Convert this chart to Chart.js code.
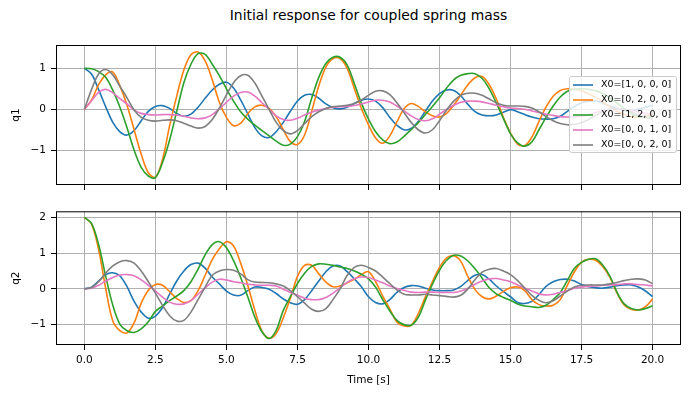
<!DOCTYPE html>
<html>
<head>
<meta charset="utf-8">
<script src="https://cdn.jsdelivr.net/npm/chart.js@4.4.0/dist/chart.umd.min.js"></script>
<style>
  body { margin: 0; background: #fff; }
  #wrap { position: relative; width: 690px; height: 396px; overflow: hidden; }
  #title { position: absolute; left: 56px; width: 625px; top: 7px; height: 20px; line-height: 20px;
           text-align: center; font: 13.9px "DejaVu Sans", sans-serif; color: #000; }
  canvas { position: absolute; left: 0; }
  #top { top: 0; }
  #bottom { top: 200px; }
</style>
</head>
<body>
<div id="wrap">
  <div id="title">Initial response for coupled spring mass</div>
  <canvas id="top" width="690" height="200"></canvas>
  <canvas id="bottom" width="690" height="196"></canvas>
</div>
<script>
// sample times [s]
const time = [0, 0.25, 0.5, 0.75, 1, 1.25, 1.5, 1.75, 2, 2.25,
  2.5, 2.75, 3, 3.25, 3.5, 3.75, 4, 4.25, 4.5, 4.75,
  5, 5.25, 5.5, 5.75, 6, 6.25, 6.5, 6.75, 7, 7.25,
  7.5, 7.75, 8, 8.25, 8.5, 8.75, 9, 9.25, 9.5, 9.75,
  10, 10.25, 10.5, 10.75, 11, 11.25, 11.5, 11.75, 12, 12.25,
  12.5, 12.75, 13, 13.25, 13.5, 13.75, 14, 14.25, 14.5, 14.75,
  15, 15.25, 15.5, 15.75, 16, 16.25, 16.5, 16.75, 17, 17.25,
  17.5, 17.75, 18, 18.25, 18.5, 18.75, 19, 19.25, 19.5, 19.75,
  20];

const labels = ['X0=[1, 0, 0, 0]', 'X0=[0, 2, 0, 0]', 'X0=[1, 2, 0, 0]', 'X0=[0, 0, 1, 0]', 'X0=[0, 0, 2, 0]'];
const colors = ['#1f77b4', '#ff7f0e', '#2ca02c', '#e377c2', '#7f7f7f'];

// q1 responses
const q1Blue = [1.0, 0.86, 0.48, 0.06, -0.32, -0.55, -0.63, -0.52, -0.28, -0.05,
  0.07, 0.09, 0.02, -0.1, -0.17, -0.12, 0.05, 0.27, 0.47, 0.61,
  0.66, 0.52, 0.23, -0.11, -0.45, -0.65, -0.69, -0.55, -0.32, -0.05,
  0.2, 0.34, 0.36, 0.27, 0.13, 0.04, 0.01, 0.05, 0.14, 0.22,
  0.25, 0.2, 0.04, -0.2, -0.39, -0.5, -0.47, -0.3, -0.05, 0.2,
  0.38, 0.47, 0.46, 0.33, 0.12, -0.06, -0.14, -0.16, -0.14, -0.07,
  -0.01, -0.06, -0.13, -0.19, -0.23, -0.24, -0.23, -0.17, -0.05, 0.07,
  0.16, 0.2, 0.2, 0.15, 0.08, 0.02, -0.02, -0.03, 0.0, 0.05,
  0.1];
const q1Orange = [0, 0.22, 0.6, 0.84, 0.91, 0.57, 0.1, -0.5, -1.1, -1.55,
  -1.66, -1.22, -0.4, 0.32, 0.96, 1.33, 1.4, 1.18, 0.72, 0.17,
  -0.2, -0.4, -0.34, -0.11, 0.06, 0.1, 0.02, -0.18, -0.5, -0.79,
  -0.86, -0.63, -0.05, 0.57, 1.03, 1.24, 1.24, 1.0, 0.51, 0.02,
  -0.38, -0.7, -0.83, -0.65, -0.31, 0.01, 0.14, 0.07, -0.06, -0.16,
  -0.19, -0.1, 0.1, 0.35, 0.6, 0.77, 0.8, 0.6, 0.25, -0.2,
  -0.58, -0.85, -0.89, -0.68, -0.3, 0.06, 0.32, 0.46, 0.5, 0.49,
  0.45, 0.38, 0.29, 0.18, 0.06, -0.05, -0.13, -0.18, -0.2, -0.17,
  -0.1];
const q1Green = [1.0, 0.99, 0.92, 0.78, 0.46, 0.05, -0.45, -1.0, -1.42, -1.63,
  -1.67, -1.3, -0.75, -0.05, 0.65, 1.1, 1.36, 1.34, 1.1, 0.82,
  0.5, 0.2, -0.06, -0.24, -0.39, -0.52, -0.65, -0.78, -0.88, -0.85,
  -0.67, -0.3, 0.27, 0.78, 1.12, 1.27, 1.27, 1.08, 0.63, 0.15,
  -0.24, -0.55, -0.75, -0.84, -0.8, -0.66, -0.5, -0.33, -0.13, 0.07,
  0.28, 0.52, 0.72, 0.83, 0.87, 0.87, 0.75, 0.5, 0.15, -0.23,
  -0.6, -0.82, -0.9, -0.8, -0.5, -0.2, 0.08, 0.3, 0.44, 0.49,
  0.5, 0.49, 0.45, 0.38, 0.28, 0.15, 0.02, -0.1, -0.18, -0.2,
  -0.17];
const q1Pink = [0, 0.21, 0.41, 0.49, 0.4, 0.26, 0.13, -0.02, -0.1, -0.13,
  -0.14, -0.13, -0.13, -0.14, -0.17, -0.21, -0.23, -0.21, -0.13, 0.01,
  0.17, 0.32, 0.41, 0.42, 0.32, 0.16, 0.0, -0.16, -0.25, -0.27,
  -0.22, -0.14, -0.07, -0.02, 0.02, 0.05, 0.06, 0.07, 0.09, 0.13,
  0.18, 0.22, 0.22, 0.18, 0.08, -0.04, -0.16, -0.25, -0.28, -0.23,
  -0.12, 0.0, 0.1, 0.17, 0.2, 0.2, 0.18, 0.14, 0.1, 0.06,
  0.03, 0.02, 0.0, -0.04, -0.08, -0.12, -0.15, -0.18, -0.19, -0.19,
  -0.17, -0.13, -0.08, -0.03, 0.0, 0.01, 0.0, -0.03, -0.07, -0.1,
  -0.12];
const q1Gray = [0, 0.48, 0.86, 0.97, 0.84, 0.56, 0.28, -0.02, -0.2, -0.27,
  -0.29, -0.27, -0.26, -0.28, -0.34, -0.41, -0.46, -0.42, -0.25, 0.03,
  0.35, 0.65, 0.82, 0.83, 0.64, 0.32, 0.0, -0.32, -0.52, -0.6,
  -0.52, -0.35, -0.18, -0.06, 0.02, 0.06, 0.08, 0.1, 0.14, 0.23,
  0.34, 0.44, 0.45, 0.36, 0.16, -0.08, -0.32, -0.5, -0.58, -0.5,
  -0.28, -0.02, 0.2, 0.34, 0.39, 0.39, 0.34, 0.25, 0.16, 0.1,
  0.08, 0.08, 0.07, 0.03, -0.06, -0.18, -0.28, -0.35, -0.38, -0.37,
  -0.33, -0.25, -0.15, -0.06, 0.0, 0.02, 0.0, -0.06, -0.14, -0.2,
  -0.24];

// q2 responses
const q2Blue = [0, 0.05, 0.22, 0.4, 0.45, 0.36, 0.06, -0.35, -0.65, -0.82,
  -0.76, -0.52, -0.15, 0.22, 0.5, 0.68, 0.72, 0.58, 0.33, 0.14,
  -0.06, -0.17, -0.18, -0.05, 0.05, 0.04, -0.01, -0.13, -0.28, -0.39,
  -0.43, -0.3, -0.05, 0.22, 0.48, 0.64, 0.64, 0.48, 0.28, 0.06,
  -0.22, -0.38, -0.42, -0.3, -0.1, 0.04, 0.09, 0.08, 0.02, -0.03,
  -0.05, -0.05, -0.03, 0.07, 0.24, 0.38, 0.4, 0.27, 0.08, -0.08,
  -0.22, -0.38, -0.41, -0.35, -0.16, 0.07, 0.2, 0.26, 0.27, 0.22,
  0.12, 0.06, 0.03, 0.02, 0.05, 0.09, 0.11, 0.11, 0.05, -0.06,
  -0.22];
const q2Orange = [2.0, 1.82, 1.1, 0.01, -0.9, -1.17, -1.23, -0.95, -0.4, -0.04,
  0.12, 0.1, -0.08, -0.27, -0.38, -0.33, -0.05, 0.38, 0.82, 1.12,
  1.32, 1.2, 0.72, 0.1, -0.6, -1.18, -1.38, -1.25, -0.81, -0.26,
  0.35, 0.66, 0.66, 0.42, 0.19, 0.06, 0.08, 0.17, 0.27, 0.4,
  0.48, 0.2, -0.2, -0.56, -0.93, -1.04, -1.02, -0.7, -0.23, 0.2,
  0.6, 0.87, 0.93, 0.77, 0.34, -0.02, -0.22, -0.28, -0.2, -0.07,
  0.03, 0.05, -0.05, -0.3, -0.44, -0.48, -0.46, -0.3, 0.1, 0.48,
  0.75, 0.83, 0.8, 0.62, 0.32, -0.12, -0.45, -0.57, -0.59, -0.5,
  -0.28];
const q2Green = [2.0, 1.83, 1.24, 0.35, -0.46, -0.99, -1.17, -1.22, -1.12, -0.92,
  -0.63, -0.48, -0.33, -0.2, -0.05, 0.2, 0.55, 0.95, 1.24, 1.32,
  1.15, 0.79, 0.32, -0.22, -0.79, -1.2, -1.39, -1.16, -0.6, -0.22,
  0.15, 0.44, 0.63, 0.7, 0.69, 0.66, 0.61, 0.57, 0.5, 0.41,
  0.28, 0.05, -0.3, -0.62, -0.88, -1.0, -1.02, -0.8, -0.32, 0.13,
  0.52, 0.8, 0.94, 0.92, 0.78, 0.56, 0.3, 0.03, -0.14, -0.24,
  -0.32, -0.42, -0.48, -0.5, -0.52, -0.46, -0.3, -0.1, 0.24, 0.58,
  0.74, 0.83, 0.84, 0.66, 0.35, -0.1, -0.42, -0.55, -0.59, -0.55,
  -0.47];
const q2Pink = [0, 0.02, 0.1, 0.22, 0.32, 0.39, 0.4, 0.37, 0.25, 0.1,
  -0.06, -0.23, -0.37, -0.43, -0.42, -0.33, -0.15, 0.03, 0.19, 0.27,
  0.25, 0.2, 0.17, 0.13, 0.11, 0.1, 0.1, 0.08, -0.01, -0.1,
  -0.18, -0.26, -0.3, -0.3, -0.24, -0.12, 0.03, 0.18, 0.28, 0.33,
  0.32, 0.25, 0.17, 0.08, 0.01, -0.04, -0.09, -0.1, -0.09, -0.09,
  -0.1, -0.1, -0.1, -0.06, 0.02, 0.13, 0.22, 0.28, 0.29, 0.25,
  0.2, 0.11, 0.02, -0.06, -0.14, -0.17, -0.15, -0.1, -0.05, 0.02,
  0.05, 0.07, 0.08, 0.1, 0.11, 0.12, 0.14, 0.14, 0.12, 0.11,
  0.08];
const q2Gray = [0, 0.04, 0.2, 0.44, 0.64, 0.76, 0.79, 0.72, 0.5, 0.2,
  -0.12, -0.46, -0.75, -0.9, -0.88, -0.65, -0.3, 0.05, 0.38, 0.5,
  0.54, 0.52, 0.42, 0.26, 0.19, 0.18, 0.17, 0.14, 0.08, -0.05,
  -0.22, -0.4, -0.57, -0.63, -0.55, -0.3, 0.0, 0.38, 0.6, 0.66,
  0.6, 0.5, 0.33, 0.15, -0.03, -0.15, -0.17, -0.17, -0.15, -0.17,
  -0.19, -0.21, -0.23, -0.18, 0.0, 0.26, 0.47, 0.55, 0.57, 0.5,
  0.4, 0.23, 0.02, -0.18, -0.32, -0.39, -0.33, -0.2, -0.06, 0.05,
  0.1, 0.11, 0.11, 0.11, 0.14, 0.18, 0.23, 0.27, 0.28, 0.25,
  0.14];

const xTicks = [0, 2.5, 5, 7.5, 10, 12.5, 15, 17.5, 20];
const q1Ticks = [-1, 0, 1];
const q2Ticks = [-1, 0, 1, 2];

Chart.defaults.font.family = '"DejaVu Sans", sans-serif';
Chart.defaults.color = '#000';

function makeDatasets(series) {
  return series.map((s, i) => ({
    label: labels[i],
    data: s.map((v, k) => ({ x: time[k], y: v })),
    borderColor: colors[i],
    borderWidth: 1.6,
    pointRadius: 0,
    tension: 0.35,
    fill: false,
    order: series.length - i   // later series drawn on top, like matplotlib
  }));
}

const fixTicks = values => scale => { scale.ticks = values.map(v => ({ value: v })); };
const minusFmt = v => (v < 0 ? '\u2212' + Math.abs(v) : String(v));
const gridOpts = { color: '#b0b0b0', lineWidth: 1, tickColor: '#000', tickLength: 5, tickWidth: 1 };

// black box round the axes
const framePlugin = {
  id: 'frame',
  afterDatasetsDraw(chart) {
    const { ctx, chartArea: a } = chart;
    ctx.save();
    ctx.strokeStyle = '#000';
    ctx.lineWidth = 1;
    ctx.strokeRect(a.left + 0.5, a.top + 0.5, a.right - a.left - 1, a.bottom - a.top - 1);
    ctx.restore();
  }
};

// matplotlib-style legend box inside the top axes
const boxLegend = {
  id: 'boxLegend',
  afterDatasetsDraw(chart) {
    const { ctx, chartArea: a } = chart;
    const sets = chart.data.datasets;
    const w = 107, h = 76, row = 15;
    const x0 = Math.round(a.right - 5 - w), y0 = Math.round(a.top + 31);
    ctx.save();
    ctx.beginPath();
    ctx.roundRect(x0 + 0.5, y0 + 0.5, w, h, 2);
    ctx.fillStyle = 'rgba(255,255,255,0.8)';
    ctx.fill();
    ctx.strokeStyle = '#cccccc';
    ctx.lineWidth = 1;
    ctx.stroke();
    ctx.font = '9.5px "DejaVu Sans", sans-serif';
    ctx.textBaseline = 'middle';
    sets.forEach((d, i) => {
      const y = y0 + 9 + i * row;
      ctx.strokeStyle = d.borderColor;
      ctx.lineWidth = 1.6;
      ctx.beginPath();
      ctx.moveTo(x0 + 4, y);
      ctx.lineTo(x0 + 24, y);
      ctx.stroke();
      ctx.fillStyle = '#000';
      ctx.fillText(d.label, x0 + 32, y);
    });
    ctx.restore();
  }
};

new Chart(document.getElementById('top'), {
  type: 'line',
  data: { datasets: makeDatasets([q1Blue, q1Orange, q1Green, q1Pink, q1Gray]) },
  options: {
    responsive: false,
    animation: false,
    devicePixelRatio: 1,
    layout: { padding: { top: 45, right: 9, left: 0, bottom: 0 } },
    plugins: { legend: { display: false }, tooltip: { enabled: false } },
    scales: {
      x: {
        type: 'linear', min: -1, max: 21,
        afterBuildTicks: fixTicks(xTicks),
        afterFit: s => { s.height = 15; },
        ticks: { display: false },
        grid: gridOpts,
        border: { display: false }
      },
      y: {
        min: -1.85, max: 1.57,
        afterBuildTicks: fixTicks(q1Ticks),
        afterFit: s => { s.width = 56; },
        ticks: { font: { size: 10.5 }, padding: 5, callback: minusFmt },
        grid: gridOpts,
        border: { display: false },
        title: { display: true, text: 'q1', font: { size: 10.5 }, padding: { top: 10, bottom: 0 } }
      }
    }
  },
  plugins: [framePlugin, boxLegend]
});

new Chart(document.getElementById('bottom'), {
  type: 'line',
  data: { datasets: makeDatasets([q2Blue, q2Orange, q2Green, q2Pink, q2Gray]) },
  options: {
    responsive: false,
    animation: false,
    devicePixelRatio: 1,
    layout: { padding: { top: 5, right: 9, left: 0, bottom: 0 } },
    plugins: { legend: { display: false }, tooltip: { enabled: false } },
    scales: {
      x: {
        type: 'linear', min: -1, max: 21,
        afterBuildTicks: fixTicks(xTicks),
        afterFit: s => { s.height = 51; },
        ticks: { font: { size: 10.5 }, padding: 4, maxRotation: 0, autoSkip: false,
                 callback: v => v.toFixed(1) },
        grid: gridOpts,
        border: { display: false },
        title: { display: true, text: 'Time [s]', font: { size: 10.5 }, padding: { top: 0, bottom: 9 } }
      },
      y: {
        min: -1.57, max: 2.17,
        afterBuildTicks: fixTicks(q2Ticks),
        afterFit: s => { s.width = 56; },
        ticks: { font: { size: 10.5 }, padding: 5, callback: minusFmt },
        grid: gridOpts,
        border: { display: false },
        title: { display: true, text: 'q2', font: { size: 10.5 }, padding: { top: 10, bottom: 0 } }
      }
    }
  },
  plugins: [framePlugin]
});
</script>
</body>
</html>
